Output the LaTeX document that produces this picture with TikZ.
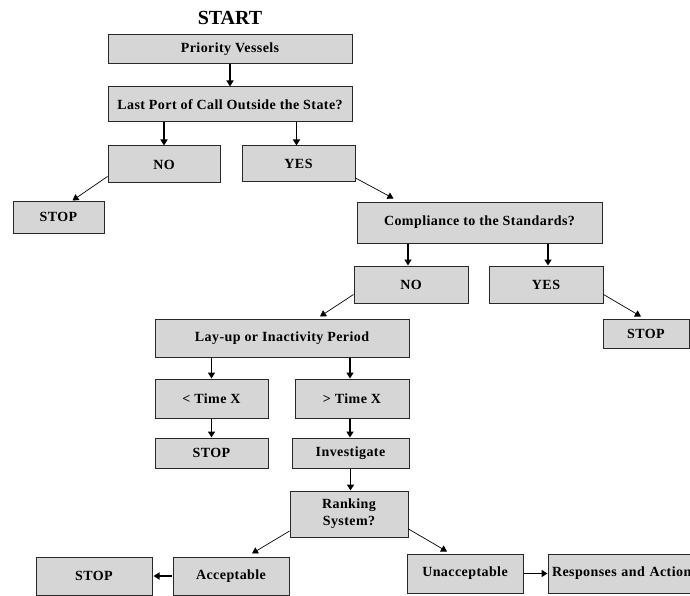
\documentclass[tikz,border=0pt]{standalone}
\usepackage{fontspec}
\setmainfont{Liberation Serif}
\newfontfamily\boxfont{Liberation Serif}[LetterSpace=3.0]
\usetikzlibrary{arrows.meta}
\definecolor{boxfill}{RGB}{214,214,214}
\definecolor{boxline}{RGB}{40,40,40}
\begin{document}
\begin{tikzpicture}[x=1pt,y=-1pt,
  box/.style={draw=boxline, line width=1pt, fill=boxfill, inner sep=0pt,
    font=\boxfont\fontsize{14}{17}\selectfont\bfseries, align=center},
  varrow/.style={line width=1.6pt, -{Triangle[width=7pt,length=6pt]}},
  darrow/.style={line width=0.7pt, -{Triangle[width=7pt,length=6pt]}},
  harrow/.style={line width=1.6pt, -{Triangle[width=7pt,length=6pt]}}]
\useasboundingbox (0,0) rectangle (690,596);
\node[font=\fontsize{20}{22}\selectfont\bfseries] (start) at (230,18) {START};
\node[box, minimum width=244pt, minimum height=29pt] (pv) at (230,49.5) {Priority Vessels};
\node[box, minimum width=244pt, minimum height=35pt] (lp) at (230,104.5) {Last Port of Call Outside the State?};
\node[box, minimum width=112pt, minimum height=37pt] (no1) at (164,164.5) {NO};
\node[box, minimum width=113pt, minimum height=36pt] (yes1) at (298.5,164) {YES};
\node[box, minimum width=91pt, minimum height=32pt] (stop1) at (58.5,217) {STOP};
\node[box, minimum width=245pt, minimum height=41pt] (comp) at (479.5,222.5) {Compliance to the Standards?};
\node[box, minimum width=114pt, minimum height=37pt] (no2) at (411,284.5) {NO};
\node[box, minimum width=114pt, minimum height=37pt] (yes2) at (546,284.5) {YES};
\node[box, minimum width=86pt, minimum height=29pt] (stop2) at (646,333.5) {STOP};
\node[box, minimum width=254pt, minimum height=38pt] (lay) at (282,338) {Lay-up or Inactivity Period};
\node[box, minimum width=113pt, minimum height=39pt] (lt) at (211.5,398.5) {< Time X};
\node[box, minimum width=114pt, minimum height=39pt] (gt) at (352,398.5) {> Time X};
\node[box, minimum width=113pt, minimum height=30pt] (stop3) at (211.5,453) {STOP};
\node[box, minimum width=117pt, minimum height=30pt] (inv) at (350.5,453) {Investigate};
\node[box, minimum width=118pt, minimum height=46pt] (rank) at (349,514) {Ranking\\System?};
\node[box, minimum width=116pt, minimum height=38pt] (acc) at (231,576) {Acceptable};
\node[box, minimum width=116pt, minimum height=38pt] (stop4) at (94,576) {STOP};
\node[box, minimum width=116pt, minimum height=39pt] (unacc) at (465,573.5) {Unacceptable};
\node[box, minimum width=160pt, minimum height=39pt, text width=152pt, align=left] (resp) at (628,573.5) {Responses and Action};
% connectors
\draw[varrow] (pv.south) -- (lp.north);
\draw[varrow] (no1.north |- lp.south) -- (no1.north);
\draw[varrow] ([xshift=-2pt]yes1.north |- lp.south) -- ([xshift=-2pt]yes1.north);
\draw[darrow] ([yshift=-12pt]no1.west) -- ([xshift=14pt]stop1.north);
\draw[darrow] ([yshift=-14pt]yes1.east) -- ([xshift=-86pt,yshift=3pt]comp.north);
\draw[varrow] ([xshift=-3pt]no2.north |- comp.south) -- ([xshift=-3pt]no2.north);
\draw[varrow] ([xshift=2pt]yes2.north |- comp.south) -- ([xshift=2pt]yes2.north);
\draw[darrow] ([yshift=-10pt]no2.west) -- ([xshift=38pt,yshift=2pt]lay.north);
\draw[darrow] ([yshift=-10pt]yes2.east) -- ([xshift=-5pt,yshift=2pt]stop2.north);
\draw[varrow] (lt.north |- lay.south) -- (lt.north);
\draw[varrow] ([xshift=-2pt]gt.north |- lay.south) -- ([xshift=-2pt]gt.north);
\draw[varrow] (lt.south) -- (stop3.north);
\draw[varrow] ([xshift=-2pt]gt.south) -- ([xshift=-2pt]gt.south |- inv.north);
\draw[varrow] (inv.south) -- (inv.south |- rank.north);
\draw[darrow] ([yshift=-17pt]rank.west) -- ([xshift=21pt,yshift=3pt]acc.north);
\draw[darrow] ([yshift=-15pt]rank.east) -- ([xshift=-18pt,yshift=2pt]unacc.north);
\draw[harrow] ([xshift=-1pt]acc.west) -- ([xshift=1pt]stop4.east);
\draw[harrow] (unacc.east) -- (resp.west);
\end{tikzpicture}
\end{document}
